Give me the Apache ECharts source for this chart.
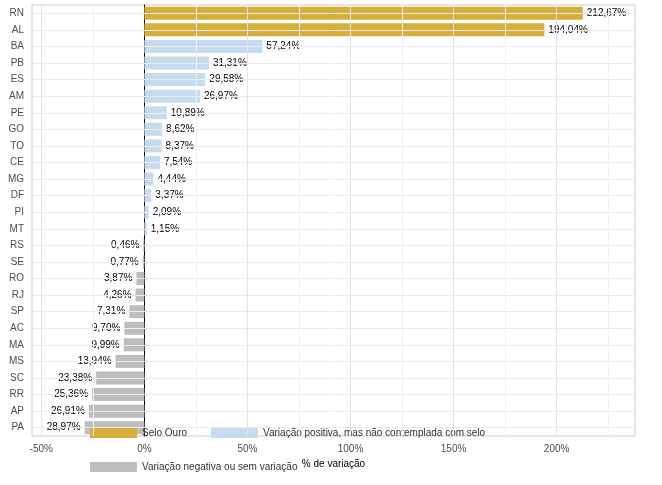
<!DOCTYPE html>
<html><head><meta charset="utf-8">
<script src="https://cdn.jsdelivr.net/npm/echarts@6/dist/echarts.min.js"></script>
<style>html,body{margin:0;padding:0;background:#fff}#c{width:662px;height:485px}</style>
</head><body><div id="c"></div>
<script>
var ufs = ['RN','AL','BA','PB','ES','AM','PE','GO','TO','CE','MG','DF','PI','MT','RS','SE','RO','RJ','SP','AC','MA','MS','SC','RR','AP','PA'];
var values = [212.67,194.04,57.24,31.31,29.58,26.97,10.89,8.62,8.37,7.54,4.44,3.37,2.09,1.15,-0.46,-0.77,-3.87,-4.26,-7.31,-9.70,-9.99,-13.94,-23.38,-25.36,-26.91,-28.97];
var seloOuro = ['RN','AL'];
var groupNames = ['Selo Ouro','Variação positiva, mas não contemplada com selo','Variação negativa ou sem variação'];
var groupColors = ['#d6ae3a','#c6dbef','#bdbdbd'];

function groupOf(i) {
    if (seloOuro.indexOf(ufs[i]) >= 0) return 0;
    return values[i] > 0 ? 1 : 2;
}
function fmt(v) { return v.toFixed(2).replace('.', ',') + '%'; }

var series = groupNames.map(function (name, g) {
    return {
        name: name, type: 'bar', stack: 'a', barWidth: 13,
        itemStyle: { color: groupColors[g] },
        label: {
            show: true, color: '#000', fontSize: 10, fontFamily: 'Liberation Sans',
            formatter: function (p) { return fmt(p.value); },
            position: g === 2 ? 'left' : 'right', distance: 4
        },
        data: values.map(function (v, i) { return groupOf(i) === g ? v : null; })
    };
});

var chart = echarts.init(document.getElementById('c'));
chart.setOption({
    animation: false,
    textStyle: { fontFamily: 'Liberation Sans' },
    grid: { left: 32, right: 27, top: 5, bottom: 49, containLabel: false, outerBoundsMode: 'none',
        show: true, borderColor: '#cccccc', borderWidth: 1 },
    legend: {
        bottom: 8, left: 85, itemWidth: 47, itemHeight: 10, itemGap: 24,
        icon: 'rect', textStyle: { fontSize: 10, color: '#333' },
        data: groupNames
    },
    xAxis: {
        type: 'value', min: -54.5, max: 238,
        name: '% de variação', nameLocation: 'middle', nameGap: 18,
        nameTextStyle: { fontSize: 10, color: '#000' },
        axisLabel: { fontSize: 10, color: '#4d4d4d', formatter: '{value}%', customValues: [-50, 0, 50, 100, 150, 200] },
        axisLine: { show: false }, axisTick: { show: false },
        splitLine: { show: false }
    },
    yAxis: {
        type: 'category', data: ufs, inverse: true,
        name: 'UF', nameLocation: 'middle', nameGap: 22, nameRotate: 90,
        nameTextStyle: { fontSize: 10, color: '#000' },
        axisLabel: { fontSize: 10, color: '#4d4d4d' },
        axisLine: { show: true, onZero: true, lineStyle: { color: '#000', width: 1 } },
        axisTick: { show: false },
        splitLine: { show: false }
    },
    series: series.concat([{
        type: 'line', silent: true, data: [],
        markLine: {
            symbol: 'none', silent: true, label: { show: false },
            lineStyle: { type: 'solid', width: 1 },
            data: [-50, -25, 25, 50, 75, 100, 125, 150, 175, 200, 225].map(function (v) {
                return { xAxis: v, lineStyle: { color: v % 50 === 0 ? '#e3e3e3' : '#f1f1f1' } };
            }).concat(ufs.map(function (u) {
                return { yAxis: u, lineStyle: { color: '#ececec' } };
            }))
        },
        z: 0
    }])
});
</script></body></html>
